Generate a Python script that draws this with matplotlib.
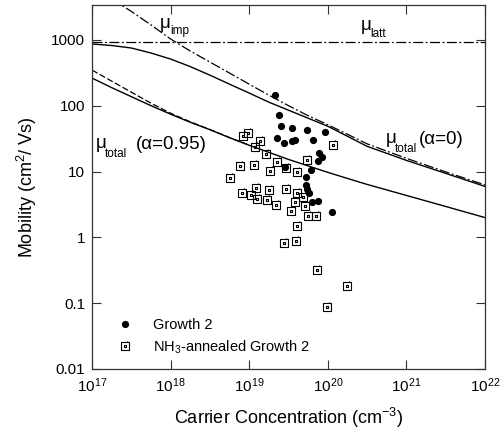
import matplotlib
matplotlib.use("Agg")
import matplotlib.pyplot as plt
from matplotlib.path import Path

plt.rcParams['font.family'] = ['Liberation Sans', 'DejaVu Sans']
plt.rcParams['mathtext.fontset'] = 'custom'
plt.rcParams['mathtext.rm'] = 'Liberation Sans'
plt.rcParams['mathtext.it'] = 'Liberation Sans'
plt.rcParams['mathtext.bf'] = 'Liberation Sans:bold'

# ---- data ----
# theoretical curves
curve_n = [1e17, 10**17.25, 10**17.5, 10**17.75, 1e18, 10**18.25, 10**18.5, 10**18.75,
           1e19, 10**19.25, 10**19.5, 10**19.75, 1e20, 10**20.25, 10**20.5, 1e21,
           10**21.5, 1e22]
mu_latt_n = [1e17, 1e22]
mu_latt = [930, 930]
mu_imp = [6650, 4217, 2718, 1694, 1035, 679, 462, 314,
          213, 145, 100.4, 70.6, 51.5, 36.9, 26.4, 15.9,
          9.89, 6.27]
mu_total_a0 = [869, 824, 755, 634, 513, 394, 292, 213,
               156, 113.5, 85.7, 64.7, 48.9, 34.4, 24.2, 14.8,
               9.4, 5.95]
mu_total_a095 = [263.6, 188.8, 137.6, 100.4, 74.5, 56.2, 43.3, 32.7,
                 25.1, 19.6, 15.3, 12.2, 9.73, 7.87, 6.38, 4.34,
                 2.95, 2.0]
dash_n = [1e17, 10**17.25, 10**17.5, 10**17.75, 1e18, 10**18.25, 10**18.5, 10**18.75, 1e19]
mu_total_a095_dash = [349, 237, 161, 109.6, 77.1, 57.0, 43.6, 32.9, 25.2]

# Growth 2 (filled circles)
growth2_n = [2.13e19, 2.39e19, 2.54e19, 3.51e19, 5.44e19, 9.2e19, 2.26e19, 2.77e19,
             3.51e19, 3.83e19, 6.49e19, 7.73e19, 8.44e19, 7.5e19, 2.85e19, 6.11e19,
             5.28e19, 5.28e19, 5.44e19, 5.77e19, 6.3e19, 7.5e19, 1.13e20]
growth2_mu = [145, 72, 48.9, 45.6, 42.5, 39.6, 32, 26.9,
              28.9, 29.9, 29.9, 18.9, 16.5, 14.3, 11.6, 10.4,
              8.2, 6.2, 5.4, 4.8, 3.4, 3.6, 2.4]

# NH3-annealed Growth 2 (squares)
nh3_n = [8.34e18, 9.66e18, 1.37e19, 1.19e19, 1.64e19, 2.26e19, 7.64e18, 1.15e19,
         1.84e19, 2.94e19, 4.06e19, 5.44e19, 1.16e20, 5.7e18, 8.1e18, 1.05e19,
         1.22e19, 1.26e19, 1.68e19, 1.79e19, 2.19e19, 2.94e19, 4.06e19, 3.83e19,
         4.83e19, 5.13e19, 3.4e19, 5.6e19, 7.08e19, 4.06e19, 2.77e19, 3.94e19,
         7.3e19, 1.75e20, 9.78e19]
nh3_mu = [34.4, 38.2, 28.9, 23.4, 18.3, 13.8, 12.0, 12.4,
          10.1, 11.2, 9.7, 14.8, 25.1, 7.9, 4.66, 4.34,
          5.7, 3.77, 3.64, 5.17, 3.16, 5.5, 4.8, 3.5,
          4.05, 2.95, 2.56, 2.15, 2.15, 1.51, 0.83, 0.89,
          0.32, 0.184, 0.088]

xticks = [1e17, 1e18, 1e19, 1e20, 1e21, 1e22]
xtick_labels = [r'$10^{17}$', r'$10^{18}$', r'$10^{19}$', r'$10^{20}$', r'$10^{21}$', r'$10^{22}$']
yticks = [0.01, 0.1, 1, 10, 100, 1000]
ytick_labels = ['0.01', '0.1', '1', '10', '100', '1000']

# ---- figure ----
W, H = 503, 432
fig = plt.figure(figsize=(W / 100, H / 100), dpi=100)
ax = fig.add_axes([92 / W, 1 - 369 / H, (485 - 92) / W, (369 - 5) / H])
ax.set_xscale('log')
ax.set_yscale('log')
ax.set_xlim(1e17, 1e22)
ax.set_ylim(0.01, 3400)

ax.plot(mu_latt_n, mu_latt, color='black', lw=0.9, dashes=[8, 2, 1.5, 2])
ax.plot(curve_n, mu_imp, color='black', lw=0.9, dashes=[8, 2, 1.5, 2])
ax.plot(curve_n, mu_total_a0, color='black', lw=1.0)
ax.plot(dash_n, mu_total_a095_dash, color='black', lw=0.9, dashes=[5, 2])
ax.plot(curve_n, mu_total_a095, color='black', lw=1.0)

# custom square marker resembling the original glyph
verts = [(-1, -1), (1, -1), (1, 1), (-1, 1), (-1, -1),
         (-0.35, -0.35), (0.35, -0.35), (0.35, 0.35), (-0.35, 0.35), (-0.35, -0.35),
         (0.6, 1), (0.6, 1.35)]
codes = [Path.MOVETO, Path.LINETO, Path.LINETO, Path.LINETO, Path.CLOSEPOLY,
         Path.MOVETO, Path.LINETO, Path.LINETO, Path.LINETO, Path.CLOSEPOLY,
         Path.MOVETO, Path.LINETO]
sq_marker = Path(verts, codes)

ax.plot(growth2_n, growth2_mu, 'o', color='black', ms=5.2, mew=0, label='Growth 2')
ax.plot(nh3_n, nh3_mu, linestyle='none', marker=sq_marker, ms=7, mfc='none', mec='black',
        mew=0.8, label=r'NH$_3$-annealed Growth 2')

ax.set_xticks(xticks)
ax.set_xticklabels(xtick_labels)
ax.set_yticks(yticks)
ax.set_yticklabels(ytick_labels)
ax.minorticks_off()
ax.tick_params(which='both', direction='in', length=6.5, width=0.8, top=True, right=True,
               labelsize=11, pad=5, color='#333333')
for s in ax.spines.values():
    s.set_color('#333333')
    s.set_linewidth(0.9)

ax.set_xlabel(r'Carrier Concentration (cm$^{-3}$)', fontsize=13, labelpad=8)
ax.set_ylabel(r'Mobility (cm$^{2}$/ Vs)', fontsize=13, labelpad=9)

leg = ax.legend(loc='upper left', bbox_to_anchor=((112 - 92) / (485 - 92), (369 - 312) / 364),
                frameon=False, fontsize=10.5, handlelength=1.0, handletextpad=1.4,
                labelspacing=0.45, borderaxespad=0)


def ftext(x, y, s, size):
    fig.text(x / W, 1 - y / H, s, fontsize=size, ha='left', va='baseline')


ftext(160, 28, 'μ', 13.5)
ftext(170, 34, 'imp', 8.5)
ftext(361, 30, 'μ', 13.5)
ftext(370, 37, 'latt', 8.5)
ftext(386, 143, 'μ', 13.5)
ftext(395, 152, 'total', 8.5)
ftext(419, 144, '(α=0)', 13.5)
ftext(96, 148, 'μ', 13.5)
ftext(105, 157, 'total', 8.5)
ftext(136, 149, '(α=0.95)', 13.5)

fig.savefig('out.png', dpi=100)
